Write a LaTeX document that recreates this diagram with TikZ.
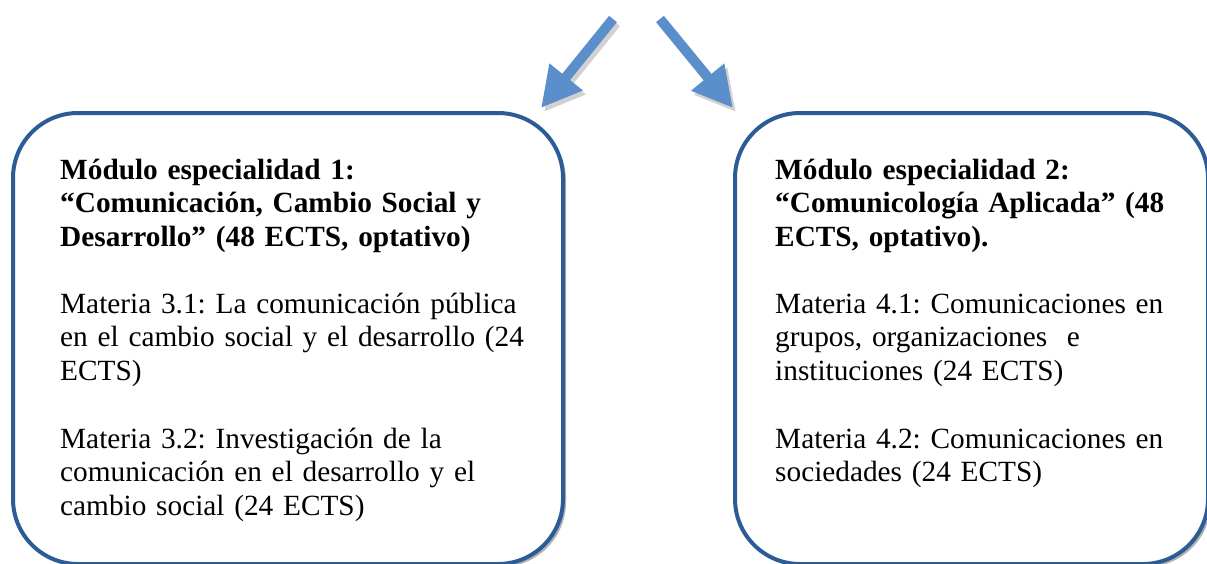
\documentclass[tikz,border=0pt]{standalone}
\usepackage{fontspec}
\setmainfont{Liberation Serif}
\frenchspacing
\usetikzlibrary{arrows.meta,shadows}
\definecolor{arrowblue}{HTML}{5A8FCB}
\definecolor{boxblue}{HTML}{2B5C95}
\tikzset{
  modbox/.style={draw=boxblue, line width=4pt, fill=white, rounded corners=65pt,
    rectangle, inner sep=0pt,
    drop shadow={shadow xshift=3pt, shadow yshift=-3pt, fill=black, opacity=.3}},
  para/.style={anchor=base west, inner sep=0pt, align=left, text width=520pt,
    font=\fontsize{29.3}{33.7}\selectfont},
  bigarrow/.style={draw=arrowblue, line width=10pt, -{Triangle[width=40pt,length=40pt,fill=arrowblue]}},
  arrowshadow/.style={draw=black, opacity=.18, line width=10pt, -{Triangle[width=40pt,length=40pt]}}
}
\begin{document}
\begin{tikzpicture}[x=1pt,y=-1pt]
\useasboundingbox (0,0) rectangle (1207,563);

% boxes
\node[modbox, minimum width=550pt, minimum height=451pt] (b1) at (288,338.5) {};
\node[modbox, minimum width=473pt, minimum height=451pt] (b2) at (971.5,338.5) {};

% arrows
\coordinate (a1s) at (613,19);
\coordinate (a1t) at (541,108);
\coordinate (a2s) at (660,19);
\coordinate (a2t) at (733,108);
\coordinate (a1ss) at (616,23);
\coordinate (a1ts) at (544,112);
\coordinate (a2ss) at (663,23);
\coordinate (a2ts) at (736,112);
\draw[arrowshadow] (a1ss) -- (a1ts);
\draw[arrowshadow] (a2ss) -- (a2ts);
\draw[bigarrow] (a1s) -- (a1t);
\draw[bigarrow] (a2s) -- (a2t);

% box 1 text
\node[para] (t1a) at (60,179) {\textbf{Módulo especialidad 1:}\\
\textbf{“Comunicación, Cambio Social y}\\
\textbf{Desarrollo” (48 ECTS, optativo)}};
\node[para] (t1b) at (60,313) {Materia 3.1: La comunicación pública\\
en el cambio social y el desarrollo (24\\
ECTS)};
\node[para] (t1c) at (60,448) {Materia 3.2: Investigación de la\\
comunicación en el desarrollo y el\\
cambio social (24 ECTS)};

% box 2 text
\node[para] (t2a) at (775,179) {\textbf{Módulo especialidad 2:}\\
\textbf{“Comunicología Aplicada” (48}\\
\textbf{ECTS, optativo).}};
\node[para] (t2b) at (775,313) {Materia 4.1: Comunicaciones en\\
grupos, organizaciones\ \ e\\
instituciones (24 ECTS)};
\node[para] (t2c) at (775,448) {Materia 4.2: Comunicaciones en\\
sociedades (24 ECTS)};
\end{tikzpicture}
\end{document}
